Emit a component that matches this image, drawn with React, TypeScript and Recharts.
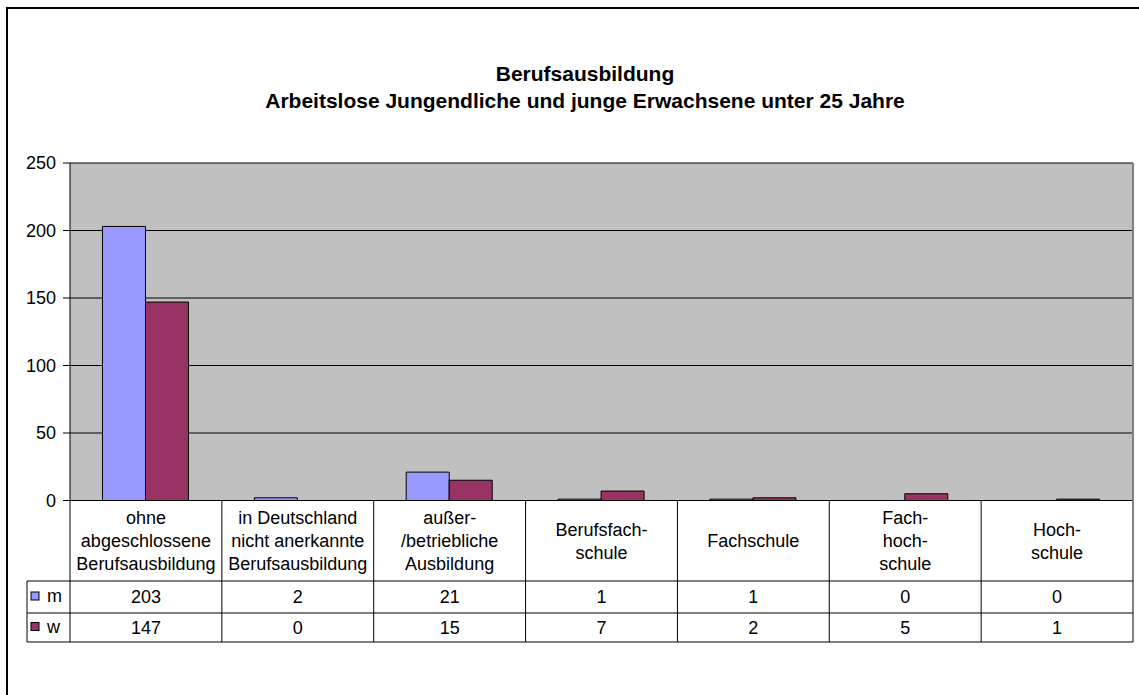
import {Bar, BarChart, CartesianGrid, XAxis, YAxis} from "recharts";

const categories = [
    "ohne\nabgeschlossene\nBerufsausbildung",
    "in Deutschland\nnicht anerkannte\nBerufsausbildung",
    "außer-\n/betriebliche\nAusbildung",
    "Berufsfach-\nschule",
    "Fachschule",
    "Fach-\nhoch-\nschule",
    "Hoch-\nschule",
];
const maleValues = [203, 2, 21, 1, 1, 0, 0];
const femaleValues = [147, 0, 15, 7, 2, 5, 1];
const yTicks = [0, 50, 100, 150, 200, 250];
const seriesNames = ["m", "w"];
const seriesColors = ["#9999FF", "#993366"];
const titleLines = ["Berufsausbildung", "Arbeitslose Jungendliche und junge Erwachsene unter 25 Jahre"];

const data = categories.map((name, i) => ({name, m: maleValues[i], w: femaleValues[i]}));

const FONT = "'Liberation Sans', Arial, sans-serif";
const PLOT_LEFT = 70;
const PLOT_RIGHT = 1133;
const PLOT_TOP = 163;
const PLOT_BOTTOM = 500.5;
const BAND = (PLOT_RIGHT - PLOT_LEFT) / categories.length;
const HEADER_H = 80.5;
const ROW_M = 32;
const ROW_W = 29;
const LEGEND_LEFT = 27;

const TableTick = (props: any) => {
    const {x, y, payload} = props;
    const i: number = payload.index;
    const left = x - BAND / 2;
    const right = x + BAND / 2;
    const lines: string[] = String(payload.value).split("\n");
    const headerMid = y + HEADER_H / 2;
    const mMid = y + HEADER_H + ROW_M / 2;
    const wMid = y + HEADER_H + ROW_M + ROW_W / 2;
    const bottom = y + HEADER_H + ROW_M + ROW_W;
    const rowLines = [y + HEADER_H, y + HEADER_H + ROW_M, bottom];
    return (
        <g>
            <line x1={right} x2={right} y1={y} y2={bottom} stroke="#000"/>
            {i === 0 && <line x1={left} x2={left} y1={y} y2={bottom} stroke="#000"/>}
            {rowLines.map((ly) => (
                <line key={ly} x1={i === 0 ? LEGEND_LEFT : left} x2={right} y1={ly} y2={ly} stroke="#000"/>
            ))}
            {i === 0 && <line x1={LEGEND_LEFT} x2={LEGEND_LEFT} y1={y + HEADER_H} y2={bottom} stroke="#000"/>}
            {i === 0 && seriesNames.map((s, k) => {
                const cy = (k === 0 ? mMid : wMid) - 1;
                return (
                    <g key={s}>
                        <rect x={31} y={cy - 4} width={8} height={8} fill={seriesColors[k]} stroke="#000"/>
                        <text x={47} y={cy} dy="0.36em" fontSize={18} fontFamily={FONT} fill="#000">{s}</text>
                    </g>
                );
            })}
            {i === categories.length - 1 && (
                <line x1={right} x2={right} y1={PLOT_TOP} y2={y} stroke="#808080" strokeWidth={2}/>
            )}
            {lines.map((t, k) => (
                <text key={k} x={x} y={headerMid + (k - (lines.length - 1) / 2) * 23} dy="0.36em"
                      textAnchor="middle" fontSize={18} fontFamily={FONT} fill="#000">{t}</text>
            ))}
            <text x={x} y={mMid} dy="0.36em" textAnchor="middle" fontSize={18} fontFamily={FONT}
                  fill="#000">{maleValues[i]}</text>
            <text x={x} y={wMid} dy="0.36em" textAnchor="middle" fontSize={18} fontFamily={FONT}
                  fill="#000">{femaleValues[i]}</text>
        </g>
    );
};

const App = (): React.JSX.Element => {
    return (
        <div style={{
            position: "absolute", left: 0, top: 0, width: 1139, height: 695,
            overflow: "hidden", background: "#fff", fontFamily: FONT
        }}>
            <div style={{
                position: "absolute", left: 6, top: 7, width: 1200, height: 800,
                borderLeft: "2px solid #000", borderTop: "2px solid #000"
            }}/>
            <div style={{
                position: "absolute", left: 0, top: 60, width: 1170, textAlign: "center",
                fontWeight: "bold", fontSize: 21, lineHeight: "27px", color: "#000"
            }}>
                {titleLines.map((t) => <div key={t}>{t}</div>)}
            </div>
            <div style={{position: "absolute", left: 0, top: 0}}>
                <BarChart width={1139} height={695} data={data}
                          margin={{top: PLOT_TOP, right: 1139 - PLOT_RIGHT, left: 10, bottom: 695 - PLOT_BOTTOM - 150}}
                          barCategoryGap="21.4%" barGap={0}>
                    <CartesianGrid vertical={false} stroke="#000" fill="#C0C0C0" fillOpacity={1}/>
                    <XAxis dataKey="name" height={150} interval={0} tickLine={false} tickSize={0} tickMargin={0}
                           axisLine={{stroke: "#000"}} tick={<TableTick/>}/>
                    <YAxis width={60} domain={[0, 250]} ticks={yTicks} interval={0} tickSize={7} tickMargin={7}
                           axisLine={{stroke: "#000"}} tickLine={{stroke: "#000"}}
                           tick={{fontSize: 18, fontFamily: FONT, fill: "#000"}}/>
                    {seriesNames.map((s, k) => (
                        <Bar key={s} dataKey={s} fill={seriesColors[k]} stroke="#000" strokeWidth={1}
                             isAnimationActive={false}/>
                    ))}
                </BarChart>
            </div>
        </div>
    );
};

export default App;
